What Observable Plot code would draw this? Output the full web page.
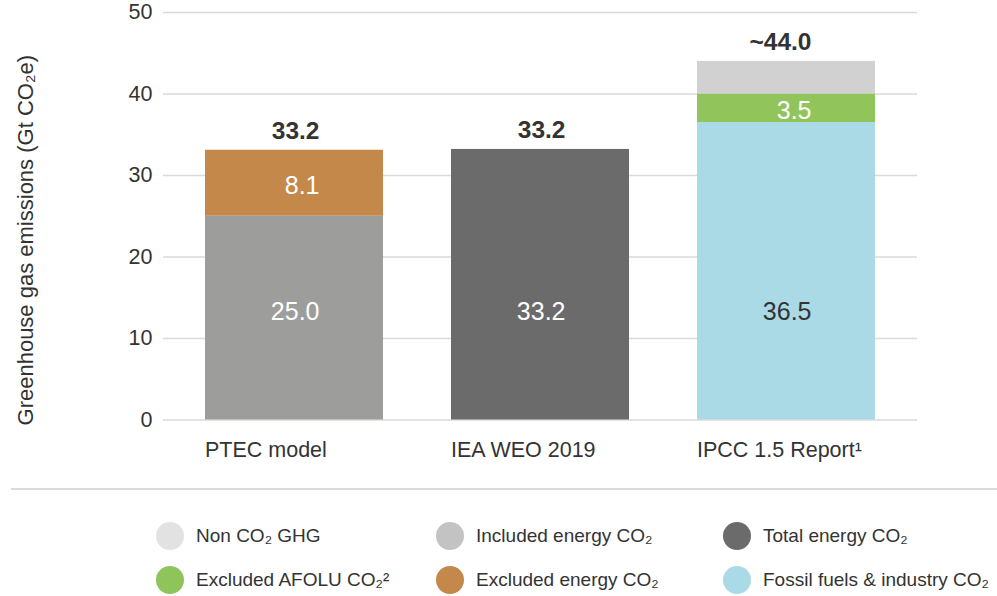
<!DOCTYPE html>
<html>
<head>
<meta charset="utf-8">
<script src="https://cdn.jsdelivr.net/npm/d3@7"></script>
<script src="https://cdn.jsdelivr.net/npm/@observablehq/plot@0.6"></script>
<style>
  body { margin: 0; background: #fff; font-family: "Liberation Sans", Arial, sans-serif; }
  #page { position: relative; width: 997px; height: 596px; overflow: hidden; }
  #chart { position: absolute; left: 0; top: 0; }
  #rule { position: absolute; left: 11px; top: 488px; width: 986px; height: 2px; background: #dcdcdc; }
  #legend { position: absolute; left: 156px; top: 514px; display: grid;
            grid-template-columns: 280px 287px auto; grid-auto-rows: 44px; }
  .item { display: flex; align-items: center; gap: 12px; font-size: 19px; color: #333; white-space: nowrap; }
  .sw { width: 28px; height: 28px; border-radius: 50%; flex: none; }
</style>
</head>
<body>
<div id="page">
  <div id="chart"></div>
  <div id="rule"></div>
  <div id="legend"></div>
</div>
<script>
// ---- data ----
const categories = ["PTEC model", "IEA WEO 2019", "IPCC 1.5 Report¹"];
const ptecSeries = ["Included energy CO₂", "Excluded energy CO₂"];
const ptecValues = [25.0, 8.1];
const ieaSeries = ["Total energy CO₂"];
const ieaValues = [33.2];
const ipccSeries = ["Fossil fuels & industry CO₂", "Excluded AFOLU CO₂²", "Non CO₂ GHG"];
const ipccValues = [36.5, 3.5, 4.0];
const segmentLabels = [["25.0", "8.1"], ["33.2"], ["36.5", "3.5", ""]];
const totalLabels = ["33.2", "33.2", "~44.0"];
const yTicks = [0, 10, 20, 30, 40, 50];
const yTitle = "Greenhouse gas emissions (Gt CO₂e)";

const seriesNames = ["Included energy CO₂", "Excluded energy CO₂", "Total energy CO₂",
                     "Fossil fuels & industry CO₂", "Excluded AFOLU CO₂²", "Non CO₂ GHG"];
const barColors = ["#9d9d9c", "#c4884a", "#6b6b6b", "#aadae6", "#92c45c", "#d1d1d1"];
const labelColors = ["#ffffff", "#ffffff", "#ffffff", "#333333", "#ffffff", "#ffffff"];

const legendNames = ["Non CO₂ GHG", "Included energy CO₂", "Total energy CO₂",
                     "Excluded AFOLU CO₂²", "Excluded energy CO₂", "Fossil fuels & industry CO₂"];
const legendColors = ["#e2e2e2", "#c3c3c3", "#6b6b6b", "#8fc45a", "#c4884a", "#a9dae6"];

// ---- build tables ----
const groups = [[ptecSeries, ptecValues], [ieaSeries, ieaValues], [ipccSeries, ipccValues]];
const segments = [];
const totals = [];
const baseLabelAt = 13.2; // label height used for the bottom segment
groups.forEach(([names, vals], gi) => {
  let acc = 0;
  vals.forEach((v, si) => {
    const lo = acc, hi = acc + v;
    segments.push({
      category: categories[gi], series: names[si], value: v,
      label: segmentLabels[gi][si],
      labelY: si === 0 ? baseLabelAt : (lo + hi) / 2 - 0.35,
      labelColor: labelColors[seriesNames.indexOf(names[si])]
    });
    acc = hi;
  });
  totals.push({category: categories[gi], top: acc, label: totalLabels[gi]});
});

// ---- layout ----
const W = 997, H = 470, mL = 163, mR = 80, mT = 12, mB = 50.5;
const pIn = 0.275, pOut = 0.164;
const step = (W - mL - mR) / (categories.length - pIn + 2 * pOut);
const bw = step * (1 - pIn);

const chart = Plot.plot({
  width: W, height: H,
  marginLeft: mL, marginRight: mR, marginTop: mT, marginBottom: mB,
  style: {fontFamily: "'Liberation Sans', Arial, sans-serif", color: "#333", background: "#fff"},
  x: {domain: categories, paddingInner: pIn, paddingOuter: pOut, align: 0.5, label: null},
  y: {domain: [0, 50], label: null},
  color: {domain: seriesNames, range: barColors},
  marks: [
    Plot.gridY(yTicks, {stroke: "#dadada", strokeOpacity: 1, strokeWidth: 1.5}),
    Plot.axisY(yTicks, {tickSize: 0, tickPadding: 11, fontSize: 21.5, fill: "#333", label: null}),
    Plot.axisX({tickSize: 0, tickPadding: 22, fontSize: 21.5, fill: "#333", textAnchor: "start", dx: -bw / 2, label: null}),
    Plot.text([yTitle], {frameAnchor: "left", dx: -138, dy: 24, rotate: -90, textAnchor: "middle",
      fontSize: 22, fill: "#333"}),
    Plot.barY(segments, {x: "category", y: "value", fill: "series", inset: 0}),
    Plot.text(segments.filter(d => d.label), {
      x: "category", y: "labelY", text: "label", fill: "labelColor",
      fontSize: 25, textAnchor: "end", dx: 25
    }),
    Plot.text(totals, {
      x: "category", y: "top", text: "label", fill: "#333",
      fontSize: 24.5, fontWeight: "bold", textAnchor: "end", dx: 25, dy: -19.5
    })
  ]
});
document.getElementById("chart").appendChild(chart);

// ---- legend ----
const legend = document.getElementById("legend");
legendNames.forEach((name, i) => {
  const item = document.createElement("div");
  item.className = "item";
  const sw = document.createElement("span");
  sw.className = "sw";
  sw.style.background = legendColors[i];
  const tx = document.createElement("span");
  tx.textContent = name;
  item.appendChild(sw); item.appendChild(tx);
  legend.appendChild(item);
});
</script>
</body>
</html>
